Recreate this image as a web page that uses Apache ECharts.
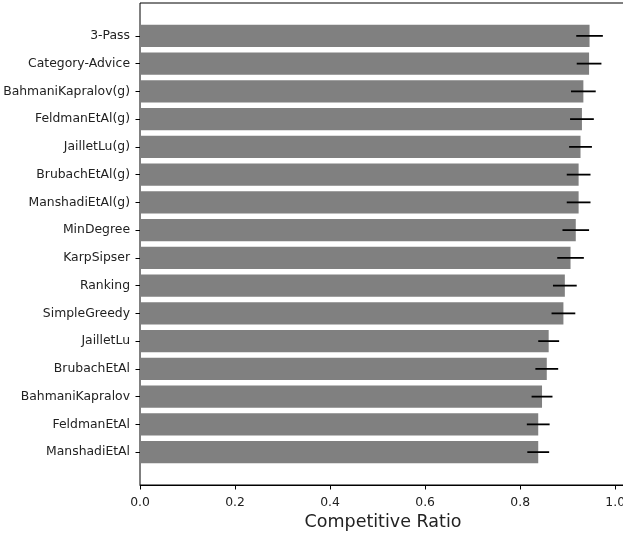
<!DOCTYPE html>
<html>
<head>
<meta charset="utf-8">
<script src="https://cdn.jsdelivr.net/npm/echarts@6/dist/echarts.min.js"></script>
<style>
  html, body { margin: 0; padding: 0; background: #fff; }
  #chart { width: 623px; height: 533px; }
</style>
</head>
<body>
<div id="chart"></div>
<script>
// Algorithms, best first (drawn top to bottom)
const algorithms = [
  '3-Pass', 'Category-Advice', 'BahmaniKapralov(g)', 'FeldmanEtAl(g)',
  'JailletLu(g)', 'BrubachEtAl(g)', 'ManshadiEtAl(g)', 'MinDegree',
  'KarpSipser', 'Ranking', 'SimpleGreedy', 'JailletLu', 'BrubachEtAl',
  'BahmaniKapralov', 'FeldmanEtAl', 'ManshadiEtAl'
];
// Mean competitive ratio per algorithm
const meanRatio = [
  0.946, 0.945, 0.933, 0.930, 0.927, 0.923, 0.923, 0.917,
  0.906, 0.894, 0.891, 0.860, 0.856, 0.846, 0.838, 0.838
];
// Spread (half-width of the error bar)
const spread = [
  0.028, 0.026, 0.026, 0.025, 0.024, 0.025, 0.025, 0.028,
  0.028, 0.025, 0.025, 0.022, 0.024, 0.022, 0.024, 0.023
];
const xTicks = [0, 0.2, 0.4, 0.6, 0.8, 1.0];

const FONT = 'DejaVu Sans';
const X_MAX = 1.0227;
const PLOT_LEFT = 140;
const PLOT_WIDTH = 486; // right edge runs just past the canvas

const chart = echarts.init(document.getElementById('chart'), null, { renderer: 'canvas' });

const errorData = algorithms.map((name, i) => [i, meanRatio[i] - spread[i], meanRatio[i] + spread[i]]);

chart.setOption({
  animation: false,
  backgroundColor: '#ffffff',
  grid: [
    // frame of the plot area
    { left: PLOT_LEFT, width: PLOT_WIDTH, top: 3, bottom: 48, outerBoundsMode: 'none',
      show: true, borderColor: '#000', borderWidth: 1, backgroundColor: 'transparent' },
    // category bands
    { left: PLOT_LEFT, width: PLOT_WIDTH, top: 22, bottom: 67, outerBoundsMode: 'none' }
  ],
  xAxis: [
    {
      gridIndex: 0, type: 'value', min: 0, max: X_MAX, interval: 0.2,
      axisLine: { show: true, onZero: false, lineStyle: { color: '#000', width: 1 } },
      axisTick: { show: true, length: 4.5, lineStyle: { color: '#000' } },
      splitLine: { show: false },
      axisLabel: {
        margin: 12, fontFamily: FONT, fontSize: 12.4, color: '#222',
        showMaxLabel: false,
        formatter: v => xTicks.some(t => Math.abs(t - v) < 1e-9) ? v.toFixed(1) : ''
      },
      name: 'Competitive Ratio', nameLocation: 'middle', nameGap: 24,
      nameTextStyle: { fontFamily: FONT, fontSize: 17.5, color: '#222' }
    },
    {
      gridIndex: 1, type: 'value', min: 0, max: X_MAX, show: false
    }
  ],
  yAxis: [
    { gridIndex: 0, type: 'value', show: false, min: 0, max: 1 },
    {
      gridIndex: 1, type: 'category', data: algorithms, inverse: true,
      axisLine: { show: false },
      axisTick: { show: true, alignWithLabel: true, length: 4.5, lineStyle: { color: '#000' } },
      axisLabel: { margin: 10, fontFamily: FONT, fontSize: 12.4, color: '#222', interval: 0 }
    }
  ],
  series: [
    {
      type: 'bar', xAxisIndex: 1, yAxisIndex: 1,
      data: meanRatio, barWidth: '80%',
      itemStyle: { color: '#808080' }
    },
    {
      type: 'custom', xAxisIndex: 1, yAxisIndex: 1,
      data: errorData,
      encode: { y: 0, x: [1, 2] },
      renderItem: (params, api) => {
        const idx = api.value(0);
        const p1 = api.coord([api.value(1), idx]);
        const p2 = api.coord([api.value(2), idx]);
        return {
          type: 'line',
          shape: { x1: p1[0], y1: p1[1], x2: p2[0], y2: p2[1] },
          style: { stroke: '#000', lineWidth: 1.8 }
        };
      },
      z: 5
    }
  ]
});
</script>
</body>
</html>
